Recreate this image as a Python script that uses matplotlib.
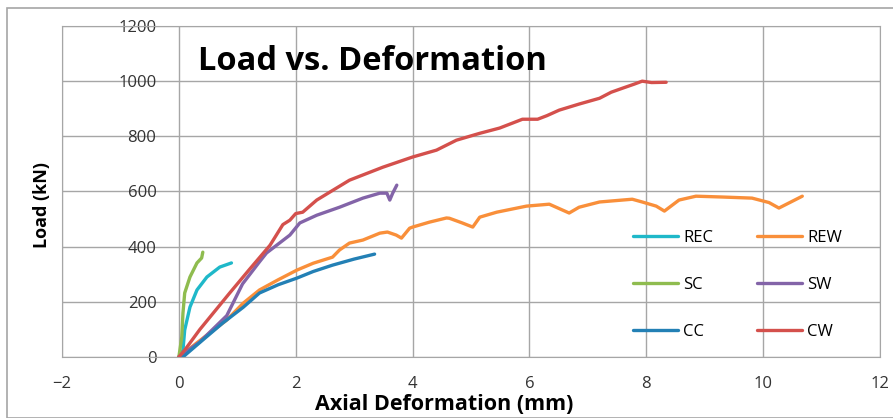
import numpy as np
import matplotlib
matplotlib.use("Agg")
import matplotlib.pyplot as plt
from matplotlib.patches import Rectangle

plt.rcParams['font.family'] = ['Open Sans', 'DejaVu Sans']

# load-deformation curves (mm, kN)
rec_x = [0, 0.07, 0.1, 0.19, 0.31, 0.48, 0.7, 0.9]
rec_y = [0, 25, 98, 181, 243, 290, 326, 341]

rew_x = [0, 0.3, 0.82, 1.1, 1.38, 1.7, 2.02, 2.3, 2.63, 2.75, 2.92, 3.15, 3.44, 3.57,
         3.72, 3.81, 3.95, 4.0, 4.29, 4.58, 4.63, 4.85, 5.03, 5.15, 5.44, 5.95, 6.34,
         6.68, 6.85, 7.2, 7.76, 7.93, 8.17, 8.31, 8.56, 8.85, 9.3, 9.81, 10.1, 10.27,
         10.67]
rew_y = [0, 50, 134, 195, 243, 280, 315, 340, 362, 388, 413, 424, 449, 453,
         442, 431, 467, 471, 489, 504, 503, 486, 471, 507, 525, 547, 554,
         522, 543, 562, 572, 562, 547, 529, 569, 583, 580, 576, 560, 540,
         583]

sc_x = [0, 0.05, 0.07, 0.1, 0.19, 0.31, 0.39, 0.41]
sc_y = [0, 72, 159, 232, 290, 341, 359, 380]

sw_x = [0, 0.36, 0.82, 1.09, 1.38, 1.5, 1.9, 2.07, 2.36, 2.75, 3.15, 3.44, 3.56, 3.61,
        3.66, 3.73]
sw_y = [0, 55, 150, 265, 345, 377, 442, 486, 514, 543, 576, 594, 594, 569,
        594, 623]

cc_x = [0.07, 0.4, 0.75, 1.1, 1.38, 1.7, 2.02, 2.3, 2.63, 3.0, 3.35]
cc_y = [0, 60, 123, 180, 232, 262, 286, 310, 333, 355, 373]

cw_x = [0, 0.1, 0.36, 0.87, 1.21, 1.56, 1.78, 1.9, 2.0, 2.12,
        2.36, 2.92, 3.49, 4.0, 4.41, 4.75, 5.15, 5.49, 5.71, 5.88, 6.14, 6.3,
        6.51, 6.85, 7.2, 7.4, 7.6, 7.79, 7.93, 8.09, 8.34]
cw_y = [0, 25, 100, 232, 318, 405, 480, 496, 520, 525,
        569, 641, 688, 725, 750, 786, 811, 830, 848, 862, 862, 875,
        895, 917, 938, 960, 975, 989, 1000, 995, 996]

series = [
    ("REC", rec_x, rec_y, "#1fb8c9"),
    ("REW", rew_x, rew_y, "#f98f3a"),
    ("SC", sc_x, sc_y, "#8fbc4f"),
    ("SW", sw_x, sw_y, "#8364a8"),
    ("CC", cc_x, cc_y, "#2380b5"),
    ("CW", cw_x, cw_y, "#d4504c"),
]

fig = plt.figure(figsize=(8.93, 4.18), dpi=100)
ax = fig.add_axes([62 / 893, 1 - 357 / 418, (880 - 62) / 893, (357 - 26) / 418])

lines = {}
for name, xs, ys, col in series:
    lines[name], = ax.plot(xs, ys, color=col, lw=2.4, solid_capstyle='round',
                           solid_joinstyle='round', label=name)

ax.set_xlim(-2, 12)
ax.set_ylim(0, 1200)
ax.set_xticks(np.arange(-2, 13, 2))
ax.set_yticks(np.arange(0, 1201, 200))
ax.grid(True, color='#a6a6a6', lw=1)
ax.set_axisbelow(True)
for s in ax.spines.values():
    s.set_color('#a6a6a6')
ax.tick_params(length=0, labelsize=12, labelcolor='#333333')
# y labels sit next to the x=0 line, as in the original
ax.tick_params(axis='y', pad=-68)
ax.tick_params(axis='x', pad=14)

ax.text((198 - 62) / 818, (357 - 61) / 331, "Load vs. Deformation", transform=ax.transAxes,
        fontsize=23.5, fontweight='bold', va='center', ha='left')

fig.text(42 / 893, 1 - 205 / 418, "Load (kN)", rotation=90, fontsize=13,
         fontweight='bold', ha='center', va='center')
fig.text(444 / 893, 1 - 404 / 418, "Axial Deformation (mm)", fontsize=15.5,
         fontweight='bold', ha='center', va='center')

order = ["REC", "SC", "CC", "REW", "SW", "CW"]
ax.legend([lines[n] for n in order], order, ncol=2, frameon=False,
          fontsize=12, handlelength=2.7, handletextpad=0.3, labelspacing=1.85,
          columnspacing=2.65, loc='upper left',
          bbox_to_anchor=((628 - 62 - 10) / 818, (357 - 215) / 331))

fig.patches.append(Rectangle((7 / 893, 0), 1, 1 - 8 / 418, transform=fig.transFigure,
                             fill=False, edgecolor='#a6a6a6', lw=1.2))

fig.savefig("out.png", dpi=100)
